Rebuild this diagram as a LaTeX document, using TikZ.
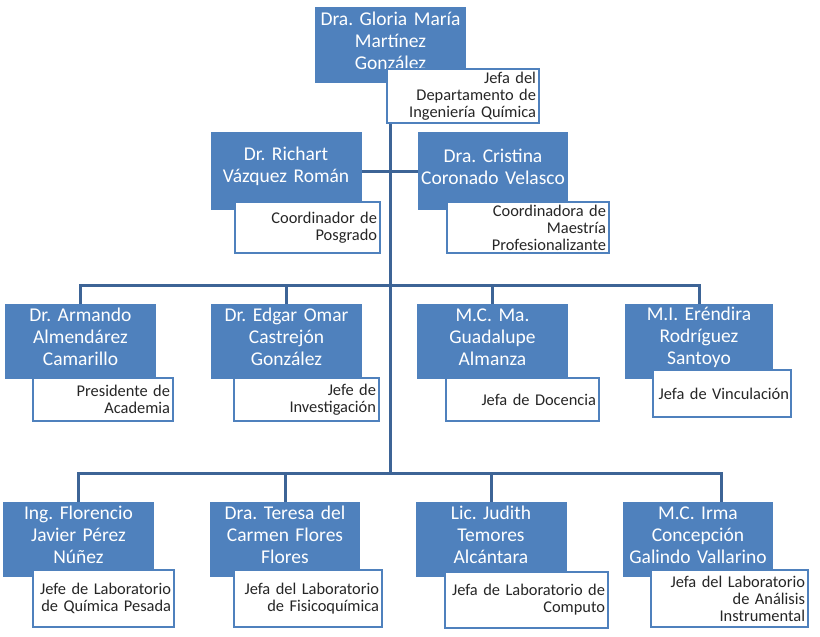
\documentclass[tikz,border=0pt]{standalone}
\usepackage{fontspec}
\setmainfont{Carlito}
\usetikzlibrary{positioning}

\definecolor{boxblue}{HTML}{4F81BD}
\definecolor{lineblue}{HTML}{3D6496}

\newcommand{\namefont}{\frenchspacing\fontsize{19.5}{22}\selectfont}
\newcommand{\rolefont}{\frenchspacing\fontsize{16.4}{17}\selectfont}
\newcommand{\namegap}{\par\vspace*{9pt}}

\begin{document}
\begin{tikzpicture}[x=1pt,y=-1pt,
  person/.style={fill=boxblue, text=white, font=\namefont, align=center,
                 inner sep=2pt, text width=147pt, minimum height=76pt,
                 execute at end node=\namegap},
  role/.style 2 args={draw=boxblue, line width=2pt, fill=white, text=black!85,
                 font=\rolefont, align=right, inner sep=3pt,
                 text width=#1pt-6pt, minimum height=#2pt},
  conn/.style={draw=lineblue, line width=3pt}]
 \useasboundingbox[fill=white] (0,0) rectangle (820,637);

 % fixed points of the trunk and the two buses
 \coordinate (trunkTop) at (390,122);
 \coordinate (bus3) at (390,285);
 \coordinate (bus4) at (390,473);
 \coordinate (irmaTop) at (721,502);

 % connectors first, boxes go on top
 \draw[conn] (trunkTop) -- (bus4);
 \draw[conn] (80.5,304) |- (bus3) -| (699,304);
 \draw[conn] (286.5,304) -- (286.5,285);
 \draw[conn] (492.5,304) -- (492.5,285);
 \draw[conn] (78.5,502) |- (bus4) -| (irmaTop);
 \draw[conn] (285,502) -- (285,473);
 \draw[conn] (491,502) -- (491,473);
 \draw[conn] (362,171) -- (418,171);

 % jefa del departamento
 \node[person] (gloria) at (390.5,45) {Dra. Gloria María\\Martínez\\González};
 \node[role={152}{52}] (gloriaRole) at (463,96) {Jefa del\\Departamento de\\Ingeniería Química};

 % coordinadores
 \node[person, minimum height=78pt] (richart) at (286,171) {Dr. Richart\\Vázquez Román};
 \node[role={145}{51}] (richartRole) at (307.5,227.5) {Coordinador de\\Posgrado};
 \node[person, minimum height=78pt, text width=146pt] (cristina) at (493,171) {Dra. Cristina\\Coronado Velasco};
 \node[role={162}{51}] (cristinaRole) at (528,227.5) {Coordinadora de\\Maestría\\Profesionalizante};

 % tercer nivel
 \node[person, minimum height=75pt] (armando) at (80.5,341.5) {Dr. Armando\\Almendárez\\Camarillo};
 \node[role={140}{43}] (armandoRole) at (103,399.5) {Presidente de\\Academia};
 \node[person, minimum height=75pt] (edgar) at (286.5,341.5) {Dr. Edgar Omar\\Castrejón\\González};
 \node[role={145}{43}] (edgarRole) at (306.5,399.5) {Jefe de\\Investigación};
 \node[person, minimum height=75pt] (guadalupe) at (492.5,341.5) {M.C. Ma.\\Guadalupe\\Almanza};
 \node[role={153}{43}] (guadalupeRole) at (522.5,399.5) {Jefa de Docencia};
 \node[person, minimum height=75pt, text width=144pt] (erendira) at (699,341.5) {M.I. Eréndira\\Rodríguez\\Santoyo};
 \node[role={140}{47}, inner xsep=2pt] (erendiraRole) at (722,393.5) {Jefa de Vinculación};

 % laboratorios
 \node[person, minimum height=75pt] (florencio) at (78.5,539.5) {Ing. Florencio\\Javier Pérez\\Núñez};
 \node[role={141}{57}] (florencioRole) at (103.5,598.5) {Jefe de Laboratorio\\de Química Pesada};
 \node[person, minimum height=75pt, text width=146pt] (teresa) at (285,539.5) {Dra. Teresa del\\Carmen Flores\\Flores};
 \node[role={148}{57}] (teresaRole) at (308,598.5) {Jefa del Laboratorio\\de Fisicoquímica};
 \node[person, minimum height=75pt] (judith) at (491,539.5) {Lic. Judith\\Temores\\Alcántara};
 \node[role={163}{56}] (judithRole) at (526.5,600) {Jefa de Laboratorio de\\Computo};
 \node[person, minimum height=75pt, text width=146pt] (irma) at (698,539.5) {M.C. Irma\\Concepción\\Galindo Vallarino};
 \node[role={157}{57}] (irmaRole) at (729.5,598.5) {Jefa del Laboratorio\\de Análisis\\Instrumental};
\end{tikzpicture}
\end{document}
